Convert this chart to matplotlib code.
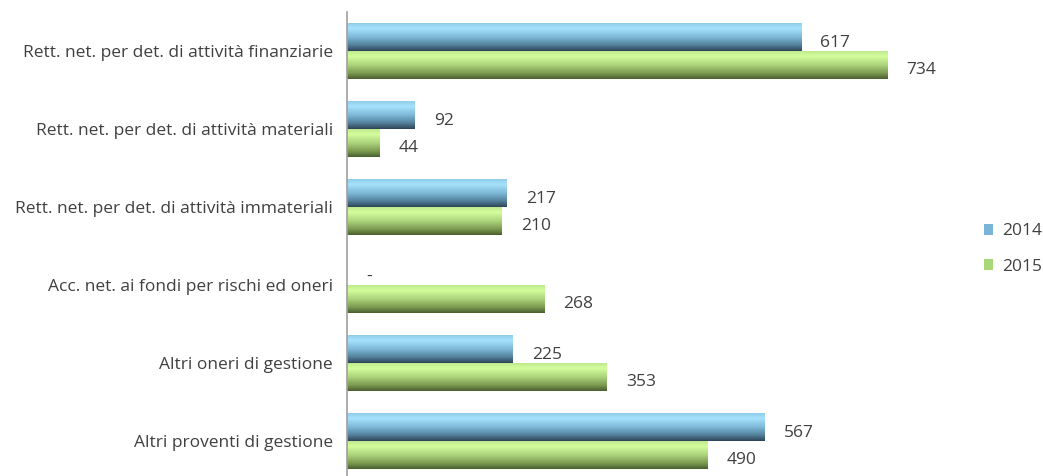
import matplotlib.pyplot as plt
import numpy as np
from matplotlib.colors import LinearSegmentedColormap
from matplotlib.patches import Patch

plt.rcParams['font.family'] = ['Open Sans', 'DejaVu Sans']

# Data
categories = [
    "Rett. net. per det. di attività finanziarie",
    "Rett. net. per det. di attività materiali",
    "Rett. net. per det. di attività immateriali",
    "Acc. net. ai fondi per rischi ed oneri",
    "Altri oneri di gestione",
    "Altri proventi di gestione",
]
values_2014 = [617, 92, 217, 0, 225, 567]
values_2015 = [734, 44, 210, 268, 353, 490]
labels_2014 = ["617", "92", "217", "-", "225", "567"]
labels_2015 = ["734", "44", "210", "268", "353", "490"]

text_col = "#404040"
blue_grad = LinearSegmentedColormap.from_list(
    "b", [(0, "#8fcdea"), (0.18, "#a6e2fb"), (0.5, "#7db9d8"), (0.8, "#527e99"), (1, "#2e4558")])
green_grad = LinearSegmentedColormap.from_list(
    "g", [(0, "#bfe98e"), (0.18, "#d4fd9c"), (0.5, "#abd47c"), (0.8, "#7a994f"), (1, "#4a5f30")])

fig = plt.figure(figsize=(10.43, 4.76), dpi=100)
ax = fig.add_axes([347 / 1043, 0.0, (930 - 347) / 1043, 1 - 12 / 476])

y = np.arange(len(categories))
h = 0.355
bars_b = ax.barh(y - h / 2, values_2014, height=h, facecolor="none", edgecolor="none")
bars_g = ax.barh(y + h / 2, values_2015, height=h, facecolor="none", edgecolor="none")

grad = np.linspace(0, 1, 64).reshape(-1, 1)
for bars, cmap in [(bars_b, blue_grad), (bars_g, green_grad)]:
    for p in bars:
        x0, y0 = p.get_x(), p.get_y()
        w, hh = p.get_width(), p.get_height()
        if w <= 0:
            continue
        im = ax.imshow(grad, cmap=cmap, aspect="auto", origin="upper",
                       extent=[x0, x0 + w, y0 + hh, y0], interpolation="bilinear")
        im.set_clip_path(p)

# value labels
for i in range(len(categories)):
    ax.text(values_2014[i] + 26, y[i] - h / 2 + 0.07, labels_2014[i], va="center", ha="left",
            fontsize=12.5, color=text_col)
    ax.text(values_2015[i] + 26, y[i] + h / 2 + 0.07, labels_2015[i], va="center", ha="left",
            fontsize=12.5, color=text_col)

ax.set_xlim(0, (930 - 347) / 0.736)
ax.set_ylim(5.45, -0.5)
ax.set_yticks(y)
ax.set_yticklabels(categories, fontsize=12.5, color=text_col)
ax.tick_params(axis="y", length=0, pad=10)
ax.set_xticks([])
for s in ["top", "right", "bottom"]:
    ax.spines[s].set_visible(False)
ax.spines["left"].set_color("#a0a0a0")
ax.spines["left"].set_linewidth(1.2)

handles = [Patch(facecolor="#7ab4d6", label="2014"), Patch(facecolor="#a8d878", label="2015")]
fig.legend(handles=handles, loc="center left", bbox_to_anchor=(968 / 1043, 1 - 249 / 476),
           frameon=False, fontsize=12.5, handlelength=0.55, handleheight=0.55, handletextpad=0.5,
           labelspacing=1.1, labelcolor=text_col)

plt.savefig("out.png", dpi=100)
